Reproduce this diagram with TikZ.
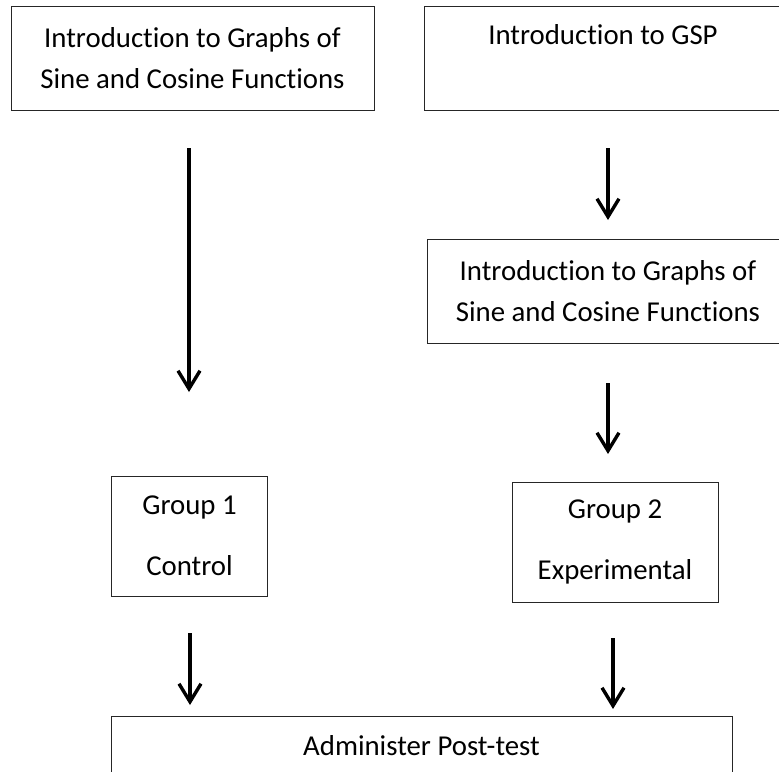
\documentclass[tikz,border=0pt]{standalone}
\usepackage{fontspec}
\setmainfont{Carlito}[Ligatures=NoCommon]
\usetikzlibrary{arrows.meta}
\begin{document}
\begin{tikzpicture}[x=1pt,y=-1pt,
  box/.style={draw=black!85,line width=1pt,inner sep=0pt,align=center,font=\fontsize{28.8}{41}\selectfont},
  grp/.style={box,font=\fontsize{28.8}{61}\selectfont},
  arr/.style={line width=3.4pt,-{Straight Barb[length=18pt,width=22pt]}},
  txt/.style={inner sep=0pt,font=\fontsize{28.8}{41}\selectfont}]
\useasboundingbox (0,0) rectangle (779,771);
\clip (0,0) rectangle (779,771);
% boxes
\node[box,minimum width=363pt,minimum height=104pt] (b1) at (192.5,58) {Introduction to Graphs of\\Sine and Cosine Functions};
\node[box,minimum width=366pt,minimum height=104pt] (b2) at (607,58) {};
\node[txt] (gsp) at (603,35) {Introduction to GSP};
\node[box,minimum width=362pt,minimum height=104pt] (b3) at (608,291) {Introduction to Graphs of\\Sine and Cosine Functions};
\node[grp,minimum width=156pt,minimum height=120pt] (g1) at (189.5,536) {Group 1\\Control};
\node[grp,minimum width=206pt,minimum height=120pt] (g2) at (615,542) {Group 2\\Experimental};
\node[box,minimum width=621pt,minimum height=60pt] (post) at (421.5,746) {Administer Post-test};
% arrow end points
\coordinate (a1s) at (189,148);
\coordinate (a1e) at (189,392);
\coordinate (a2s) at (608,148);
\coordinate (a2e) at (608,220);
\coordinate (a3s) at (608,383);
\coordinate (a3e) at (608,454);
\coordinate (a4s) at (190,633);
\coordinate (a4e) at (190,705);
\coordinate (a5s) at (613,638);
\coordinate (a5e) at (613,709);
\draw[arr] (a1s) -- (a1e);
\draw[arr] (a2s) -- (a2e);
\draw[arr] (a3s) -- (a3e);
\draw[arr] (a4s) -- (a4e);
\draw[arr] (a5s) -- (a5e);
\end{tikzpicture}
\end{document}
